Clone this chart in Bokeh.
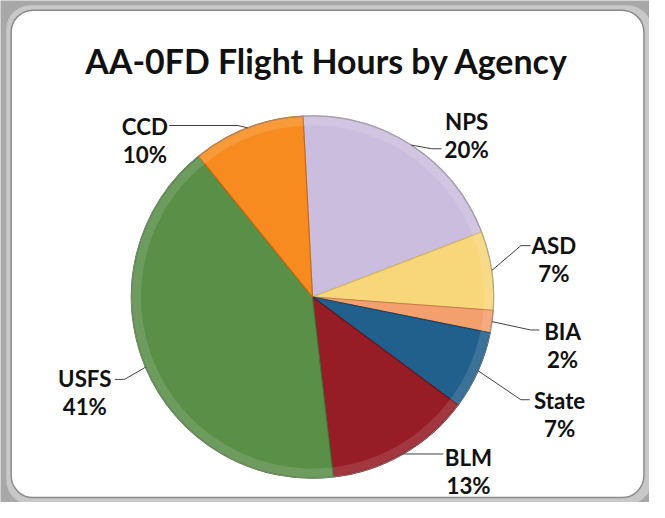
import numpy as np
from bokeh.plotting import figure
from bokeh.models import Range1d, ColumnDataSource
from bokeh.core.properties import value
from bokeh.embed import file_html
from bokeh.resources import INLINE

# ---- data ----
title = "AA-0FD Flight Hours by Agency"
agencies = ["NPS", "ASD", "BIA", "State", "BLM", "USFS", "CCD"]
percent = [20, 7, 2, 7, 13, 41, 10]
colors = ["#CBBDDD", "#F8D77A", "#F3A06E", "#215F8C", "#961C25", "#5A8F48", "#F88B1F"]
edges = ["#A99BBD", "#D6B75A", "#C97A4E", "#15466B", "#6E1219", "#426D34", "#C86A10"]

# ---- layout (reference pixel space, scaled to fit the page) ----
W, H = 649, 502
s = 0.969                      # reference px -> screen px
def Y(y):
    return 518 - y

cx, cy, R = 322, Y(306), 187
start_deg = 93
label_pos = {"NPS": (481, 125), "ASD": (571, 253), "BIA": (580, 342), "State": (577, 413),
             "BLM": (483, 472), "USFS": (87, 390), "CCD": (149, 130)}
leader_tip = {"NPS": (455, 153), "ASD": (547, 253), "BIA": (556, 340), "State": (546, 412),
              "BLM": (457, 468), "USFS": (118, 391), "CCD": (174, 129)}
leader_elbow = {"NPS": (445, 153), "ASD": (537, 253), "BIA": (547, 340), "State": (537, 412),
                "BLM": (440, 468), "USFS": (128, 391), "CCD": (245, 129)}
line_gap = {"NPS": 29, "ASD": 29, "BIA": 28, "State": 29, "BLM": 28, "USFS": 29, "CCD": 29}

def px(v):
    return f"{v * s:.1f}px"

p = figure(width=W, height=H, x_range=Range1d(0, W / s), y_range=Range1d(518 - H / s, 518),
           output_backend="svg", toolbar_location=None, min_border=0,
           x_axis_location=None, y_axis_location=None)
p.grid.visible = False
p.outline_line_color = None
p.background_fill_color = "#a8a8a8"
p.border_fill_color = "#a8a8a8"

# card with soft shadow edge
p.quad(left=[6], right=[672], top=[Y(5)], bottom=[Y(520)], fill_color="#c8c8c8",
       line_color=None, border_radius=24)
p.quad(left=[11], right=[664], top=[Y(10)], bottom=[Y(513)], fill_color="white",
       line_color="#8a8a8a", line_width=1.5 * s, border_radius=22)

# pie
vals = np.array(percent, dtype=float)
frac = vals / vals.sum()
cum = np.concatenate([[0.0], np.cumsum(frac)])
starts = np.radians(start_deg - 360 * cum[:-1])
ends = np.radians(start_deg - 360 * cum[1:])
mids = (starts + ends) / 2
src = ColumnDataSource(dict(start=starts, end=ends, color=colors, edge=edges))

p.wedge(x=cx, y=cy, radius=R, start_angle="start", end_angle="end", direction="clock",
        fill_color="color", line_color="edge", line_width=1.2 * s, source=src)
# bevel highlight near the rim
p.annular_wedge(x=cx, y=cy, inner_radius=R - 10, outer_radius=R - 1, start_angle="start",
                end_angle="end", direction="clock", fill_color="white", fill_alpha=0.12,
                line_color=None, source=src)
p.circle(x=[cx], y=[cy], radius=R, fill_color=None, line_color="#9a9a9a",
         line_width=1 * s, line_alpha=0.7)

# leader lines
xs, ys = [], []
for a, m in zip(agencies, mids):
    rx, ry = cx + R * np.cos(m), cy + R * np.sin(m)
    ex, ey = leader_elbow[a]
    tx, ty = leader_tip[a]
    xs.append([rx, ex, tx])
    ys.append([ry, Y(ey), Y(ty)])
p.multi_line(xs=xs, ys=ys, line_color="#3c3c3c", line_width=1 * s)

# labels
lx, ly, lt = [], [], []
for a, v in zip(agencies, percent):
    x, y = label_pos[a]
    lx += [x, x]
    ly += [Y(y), Y(y + line_gap[a])]
    lt += [a, f"{v}%"]
p.text(x=lx, y=ly, text=lt, text_align="center", text_baseline="alphabetic",
       text_font=value("Lato"), text_font_style="bold", text_font_size=px(23),
       text_color="#111111")

# title
p.text(x=[337], y=[Y(62)], text=[title], text_align="center", text_baseline="alphabetic",
       text_font=value("Lato"), text_font_style="bold", text_font_size=px(35),
       text_color="#111111")

open("out.html", "w").write(file_html(p, INLINE))
